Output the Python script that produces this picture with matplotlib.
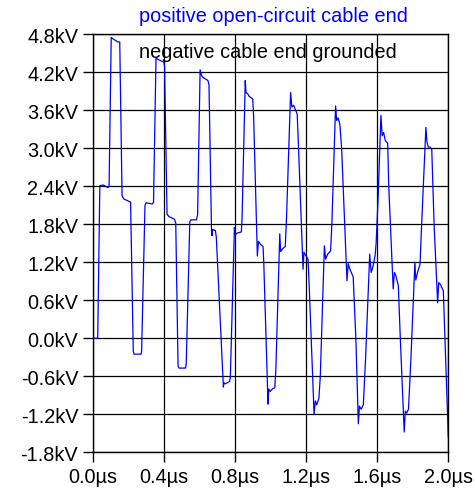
"""
Voltage at the positive open-circuit cable end (negative end grounded).
"""
import matplotlib
matplotlib.use("Agg")
import matplotlib.pyplot as plt

# waveform, time in µs, voltage in kV
t_us = [
    0.0, 0.028, 0.04, 0.06, 0.085, 0.092, 0.104, 0.108, 0.14, 0.152,
    0.165, 0.175, 0.205, 0.213, 0.228, 0.232, 0.272, 0.275, 0.294, 0.30,
    0.335, 0.342, 0.356, 0.37, 0.40, 0.404, 0.418, 0.43, 0.46, 0.467,
    0.48, 0.485, 0.522, 0.526, 0.546, 0.552, 0.583, 0.59, 0.604, 0.612,
    0.62, 0.648, 0.654, 0.668, 0.671, 0.675, 0.69, 0.695, 0.735, 0.738,
    0.745, 0.770, 0.774, 0.797, 0.800, 0.812, 0.836, 0.840, 0.858, 0.862,
    0.872, 0.880, 0.900, 0.905, 0.926, 0.932, 0.945, 0.958, 0.962, 0.986,
    0.990, 0.998, 1.010, 1.024, 1.030, 1.052, 1.057, 1.070, 1.083, 1.090,
    1.113, 1.120, 1.130, 1.150, 1.155, 1.183, 1.188, 1.200, 1.211, 1.218,
    1.245, 1.252, 1.260, 1.272, 1.280, 1.303, 1.310, 1.322, 1.338, 1.345,
    1.366, 1.372, 1.380, 1.390, 1.400, 1.430, 1.437, 1.445, 1.465, 1.480,
    1.494, 1.500, 1.510, 1.522, 1.535, 1.558, 1.566, 1.575, 1.588, 1.594,
    1.605, 1.621, 1.628, 1.636, 1.646, 1.659, 1.665, 1.690, 1.697, 1.706,
    1.719, 1.730, 1.752, 1.758, 1.766, 1.776, 1.790, 1.812, 1.817, 1.828,
    1.841, 1.850, 1.874, 1.880, 1.887, 1.897, 1.907, 1.920, 1.940, 1.946,
    1.956, 1.972, 1.985, 2.0,
]
v_kv = [
    0.0, 0.0, 2.41, 2.42, 2.38, 2.40, 4.75, 4.74, 4.68, 4.68,
    2.25, 2.20, 2.16, 2.15, -0.20, -0.25, -0.25, -0.20, 2.10, 2.14,
    2.12, 2.15, 4.42, 4.40, 4.36, 4.30, 1.96, 1.92, 1.88, 1.82,
    -0.44, -0.47, -0.47, -0.40, 1.84, 1.87, 1.87, 1.95, 4.24, 4.15,
    4.12, 4.07, 4.00, 1.73, 1.62, 1.72, 1.70, 1.60, -0.77, -0.70,
    -0.72, -0.68, -0.62, 1.75, 1.63, 1.66, 1.68, 1.90, 4.07, 3.88,
    3.86, 3.82, 3.78, 3.50, 1.30, 1.53, 1.48, 1.45, 1.20, -1.04,
    -0.80, -0.84, -0.80, -0.78, -0.50, 1.65, 1.37, 1.42, 1.45, 1.90,
    3.88, 3.65, 3.68, 3.54, 3.20, 1.09, 1.36, 1.30, 1.25, 0.80,
    -1.20, -0.99, -1.05, -0.95, -0.60, 1.46, 1.25, 1.33, 1.38, 1.80,
    3.67, 3.44, 3.48, 3.38, 3.00, 0.91, 1.18, 1.10, 0.97, 0.0,
    -1.35, -1.07, -1.12, -1.05, -0.30, 1.33, 1.04, 1.12, 1.30, 1.50,
    2.20, 3.52, 3.20, 3.25, 3.12, 3.08, 2.40, 0.78, 1.04, 0.98,
    0.83, 0.0, -1.48, -1.15, -1.18, -1.12, -0.30, 1.20, 0.92, 1.05,
    1.17, 1.80, 3.33, 3.10, 3.02, 3.02, 2.98, 1.80, 0.56, 0.88,
    0.85, 0.75, -0.30, -1.56,
]

y_ticks = [-1.8, -1.2, -0.6, 0.0, 0.6, 1.2, 1.8, 2.4, 3.0, 3.6, 4.2, 4.8]
y_labels = ["-1.8kV", "-1.2kV", "-0.6kV", "0.0kV", "0.6kV", "1.2kV",
            "1.8kV", "2.4kV", "3.0kV", "3.6kV", "4.2kV", "4.8kV"]
x_ticks = [0.0, 0.4, 0.8, 1.2, 1.6, 2.0]
x_labels = ["0.0µs", "0.4µs", "0.8µs", "1.2µs", "1.6µs", "2.0µs"]

plt.rcParams["font.family"] = ["Liberation Sans", "DejaVu Sans"]
plt.rcParams["font.size"] = 14.3

fig = plt.figure(figsize=(4.75, 5.02), dpi=100)
ax = fig.add_axes([0.1952, 0.0970, 0.7486, 0.8327])

ax.plot(t_us, v_kv, color="#0000ff", lw=0.9)

ax.set_xlim(0.0, 2.0)
ax.set_ylim(-1.8, 4.8)
ax.set_xticks(x_ticks, x_labels)
ax.set_yticks(y_ticks, y_labels)
ax.tick_params(direction="out", length=7.5, width=1.0, color="black",
               labelcolor="black", pad=3)
ax.grid(True, color="black", lw=0.9)
ax.set_axisbelow(True)
for s in ax.spines.values():
    s.set_color("black")
    s.set_linewidth(1.0)

fig.text(0.576, 0.968, "positive open-circuit cable end", color="#0000ff",
         ha="center", va="center")
ax.text(0.130, 0.958, "negative cable end grounded", color="black",
        ha="left", va="center", transform=ax.transAxes)

fig.savefig("out.png", dpi=100)
